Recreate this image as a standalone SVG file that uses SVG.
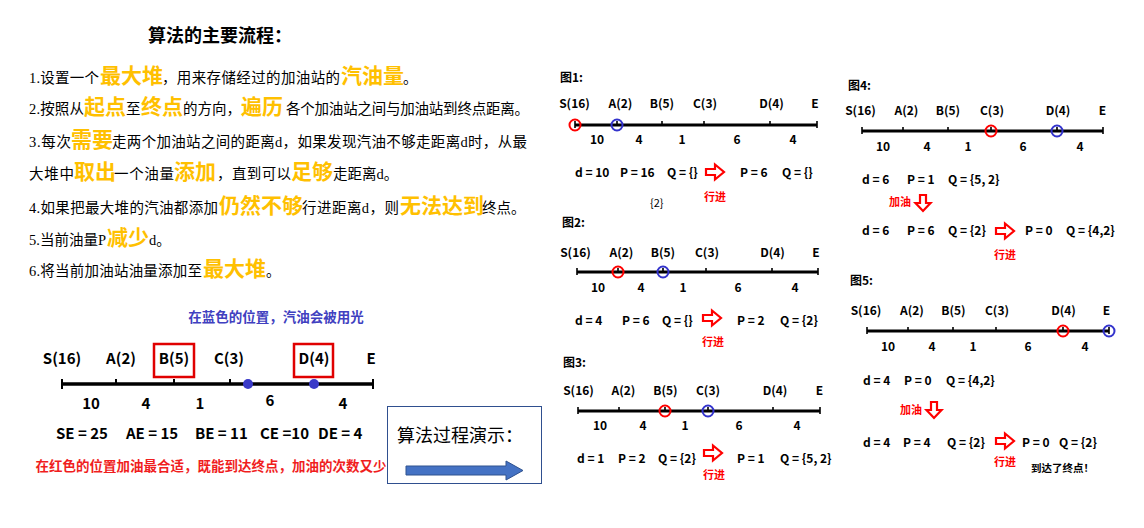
<svg xmlns="http://www.w3.org/2000/svg" width="1144" height="528" viewBox="0 0 1144 528">
<style>
.n{font-family:"Liberation Serif","Noto Sans CJK SC",serif;font-size:14.5px;fill:#000}
.h{font-family:"Noto Sans CJK SC",sans-serif;font-weight:bold;font-size:21px;fill:#FFC000}
.ttl{font-family:"Noto Sans CJK SC",sans-serif;font-weight:bold;font-size:18px;fill:#000}
.fl{stroke:#000;stroke-width:3;fill:none}
.tk{stroke:#000;stroke-width:1.6;fill:none}
.cr{fill:none;stroke:#F00;stroke-width:2}
.cb{fill:none;stroke:#3333CC;stroke-width:2}
.lb{font-family:"Noto Sans CJK SC",sans-serif;font-weight:bold;font-size:12px;fill:#000;text-anchor:middle}
.st{font-family:"Noto Sans CJK SC",sans-serif;font-weight:bold;font-size:12px;fill:#000}
.ft{font-family:"Noto Sans CJK SC",sans-serif;font-weight:bold;font-size:12px;fill:#000}
.rt{font-family:"Noto Sans CJK SC",sans-serif;font-weight:bold;font-size:11px;fill:#F00}
.ar{fill:#fff;stroke:#F00;stroke-width:2.2;stroke-linejoin:miter}
.bl{font-family:"Noto Sans CJK SC",sans-serif;font-weight:bold;font-size:15px;fill:#000;text-anchor:middle}
.bs{font-family:"Noto Sans CJK SC",sans-serif;font-weight:bold;font-size:15px;fill:#000}
.big{stroke:#000;stroke-width:3.5;fill:none}
.bt{stroke:#000;stroke-width:2;fill:none}
.rb{fill:none;stroke:#E00000;stroke-width:2.5}
</style>
<defs>
<path id="ra" d="M0,-3 H9 V-7.5 L18,0 L9,7.5 V3 H0 Z"/>
<path id="da" d="M-3,0 V8 H-7.5 L0,16 L7.5,8 H3 V0 Z"/>
</defs>

<g id="title">
<text class="ttl" x="148" y="42">算法的主要流程：</text>
</g>

<g id="steps">
<text y="83"><tspan class="n" x="29" textLength="70">1.设置一个</tspan><tspan class="h" x="100">最大堆</tspan><tspan class="n" x="162" textLength="178">，用来存储经过的加油站的</tspan><tspan class="h" x="341">汽油量</tspan><tspan class="n" x="403">。</tspan></text>
<text y="114"><tspan class="n" x="29" textLength="55">2.按照从</tspan><tspan class="h" x="84">起点</tspan><tspan class="n" x="126">至</tspan><tspan class="h" x="141">终点</tspan><tspan class="n" x="183" textLength="58">的方向，</tspan><tspan class="h" x="241">遍历</tspan><tspan class="n" x="286" textLength="243">各个加油站之间与加油站到终点距离。</tspan></text>
<text y="147"><tspan class="n" x="29" textLength="42">3.每次</tspan><tspan class="h" x="71">需要</tspan><tspan class="n" x="112" textLength="415">走两个加油站之间的距离d，如果发现汽油不够走距离d时，从最</tspan></text>
<text y="179"><tspan class="n" x="29" textLength="45">大堆中</tspan><tspan class="h" x="74">取出</tspan><tspan class="n" x="114" textLength="60">一个油量</tspan><tspan class="h" x="174">添加</tspan><tspan class="n" x="217" textLength="74">，直到可以</tspan><tspan class="h" x="291">足够</tspan><tspan class="n" x="333">走距离d。</tspan></text>
<text y="213"><tspan class="n" x="29" textLength="189">4.如果把最大堆的汽油都添加</tspan><tspan class="h" x="219">仍然不够</tspan><tspan class="n" x="302" textLength="97">行进距离d，则</tspan><tspan class="h" x="400">无法达到</tspan><tspan class="n" x="482">终点。</tspan></text>
<text y="245"><tspan class="n" x="29" textLength="77">5.当前油量P</tspan><tspan class="h" x="107">减少</tspan><tspan class="n" x="149">d。</tspan></text>
<text y="276"><tspan class="n" x="29" textLength="173">6.将当前加油站油量添加至</tspan><tspan class="h" x="203">最大堆</tspan><tspan class="n" x="266">。</tspan></text>
</g>

<g id="overview">
<text x="276" y="322" style="font-family:'Noto Sans CJK SC',sans-serif;font-weight:bold;font-size:13.5px;fill:#4040C0;text-anchor:middle">在蓝色的位置，汽油会被用光</text>
<rect class="rb" x="154" y="344" width="40" height="33"/>
<rect class="rb" x="294" y="344" width="39" height="33"/>
<text class="bl" x="62" y="364">S(16)</text>
<text class="bl" x="121" y="364">A(2)</text>
<text class="bl" x="174" y="364">B(5)</text>
<text class="bl" x="229" y="364">C(3)</text>
<text class="bl" x="314" y="364">D(4)</text>
<text class="bl" x="371" y="364">E</text>
<line class="big" x1="62" y1="384" x2="373" y2="384"/>
<path class="bt" d="M62,379 V389 M116,379 V384 M174,379 V384 M230,379 V384 M373,379 V389"/>
<circle cx="248" cy="384" r="5" fill="#3A3AC8"/>
<circle cx="314" cy="384" r="5" fill="#3A3AC8"/>
<text class="bl" x="91" y="409">10</text>
<text class="bl" x="146" y="409">4</text>
<text class="bl" x="200" y="409">1</text>
<text class="bl" x="270" y="406">6</text>
<text class="bl" x="343" y="409">4</text>
<text class="bs" x="56" y="439">SE = 25</text>
<text class="bs" x="126" y="439">AE = 15</text>
<text class="bs" x="195" y="439">BE = 11</text>
<text class="bs" x="260" y="439">CE =10</text>
<text class="bs" x="318" y="439">DE = 4</text>
<text x="211" y="471" style="font-family:'Noto Sans CJK SC',sans-serif;font-weight:bold;font-size:13.5px;fill:#F01E1E;text-anchor:middle">在红色的位置加油最合适，既能到达终点，加油的次数又少</text>
</g>

<g id="demo-box">
<rect x="387.5" y="406.5" width="154" height="77" fill="#fff" stroke="#2F4F8F" stroke-width="1"/>
<text x="397" y="442" textLength="126" style="font-family:'Noto Sans CJK SC',sans-serif;font-size:18px;fill:#000">算法过程演示：</text>
<path d="M406,466 H506 V461 L523,470.5 L506,480 V475 H406 Z" fill="#4472C4" stroke="#2F528F" stroke-width="1"/>
</g>

<g id="fig1">
<text class="ft" x="560" y="82">图1:</text>
<text class="lb" x="574.5" y="108">S(16)</text>
<text class="lb" x="620.5" y="108">A(2)</text>
<text class="lb" x="662" y="108">B(5)</text>
<text class="lb" x="705" y="108">C(3)</text>
<text class="lb" x="771.5" y="108">D(4)</text>
<text class="lb" x="815" y="108">E</text>
<line class="fl" x1="575" y1="125" x2="817" y2="125"/>
<path class="tk" d="M575,121 V128 M617,121 V125 M662,121 V125 M704,121 V125 M770,121 V125 M817,121 V128"/>
<circle class="cr" cx="575" cy="125" r="5.5"/>
<circle class="cb" cx="617" cy="125" r="5.5"/>
<text class="lb" x="597" y="144">10</text>
<text class="lb" x="639" y="144">4</text>
<text class="lb" x="682" y="144">1</text>
<text class="lb" x="737" y="144">6</text>
<text class="lb" x="793" y="144">4</text>
<text class="st" x="575" y="177">d = 10</text>
<text class="st" x="620" y="177">P = 16</text>
<text class="st" x="667" y="177">Q = {}</text>
<use href="#ra" class="ar" x="706" y="172"/>
<text class="st" x="740" y="177">P = 6</text>
<text class="st" x="782" y="177">Q = {}</text>
<text class="rt" x="704" y="201">行进</text>
<text x="650" y="207" style="font-family:'Noto Sans CJK SC',sans-serif;font-size:11px;fill:#000">{2}</text>
</g>

<g id="fig2">
<text class="ft" x="562" y="227">图2:</text>
<text class="lb" x="575.5" y="257">S(16)</text>
<text class="lb" x="621.5" y="257">A(2)</text>
<text class="lb" x="663" y="257">B(5)</text>
<text class="lb" x="707" y="257">C(3)</text>
<text class="lb" x="772.5" y="257">D(4)</text>
<text class="lb" x="816" y="257">E</text>
<line class="fl" x1="577" y1="272" x2="818" y2="272"/>
<path class="tk" d="M577,268 V275 M618,268 V272 M663,268 V272 M706,268 V272 M772,268 V272 M818,268 V275"/>
<circle class="cr" cx="618" cy="272" r="5.5"/>
<circle class="cb" cx="663" cy="272" r="5.5"/>
<text class="lb" x="598" y="292">10</text>
<text class="lb" x="641" y="292">4</text>
<text class="lb" x="683" y="292">1</text>
<text class="lb" x="738" y="292">6</text>
<text class="lb" x="795" y="292">4</text>
<text class="st" x="575" y="325">d = 4</text>
<text class="st" x="622" y="325">P = 6</text>
<text class="st" x="662" y="325">Q = {}</text>
<use href="#ra" class="ar" x="703" y="318"/>
<text class="st" x="737" y="325">P = 2</text>
<text class="st" x="780" y="325">Q = {2}</text>
<text class="rt" x="702" y="346">行进</text>
</g>

<g id="fig3">
<text class="ft" x="563" y="367">图3:</text>
<text class="lb" x="578.5" y="395">S(16)</text>
<text class="lb" x="623.5" y="395">A(2)</text>
<text class="lb" x="665.5" y="395">B(5)</text>
<text class="lb" x="708" y="395">C(3)</text>
<text class="lb" x="775" y="395">D(4)</text>
<text class="lb" x="819.5" y="395">E</text>
<line class="fl" x1="578" y1="411" x2="820" y2="411"/>
<path class="tk" d="M578,407 V414 M619,407 V411 M665,407 V411 M708,407 V411 M773,407 V411 M820,407 V414"/>
<circle class="cr" cx="665" cy="411" r="5.5"/>
<circle class="cb" cx="708" cy="411" r="5.5"/>
<text class="lb" x="600" y="430">10</text>
<text class="lb" x="643" y="430">4</text>
<text class="lb" x="685" y="430">1</text>
<text class="lb" x="739" y="430">6</text>
<text class="lb" x="797" y="430">4</text>
<text class="st" x="577" y="463">d = 1</text>
<text class="st" x="618" y="463">P = 2</text>
<text class="st" x="658" y="463">Q = {2}</text>
<use href="#ra" class="ar" x="704" y="453"/>
<text class="st" x="737" y="463">P = 1</text>
<text class="st" x="780" y="463">Q = {5, 2}</text>
<text class="rt" x="703" y="479">行进</text>
</g>

<g id="fig4">
<text class="ft" x="848" y="90">图4:</text>
<text class="lb" x="860.5" y="115">S(16)</text>
<text class="lb" x="906.5" y="115">A(2)</text>
<text class="lb" x="948" y="115">B(5)</text>
<text class="lb" x="992" y="115">C(3)</text>
<text class="lb" x="1058" y="115">D(4)</text>
<text class="lb" x="1102.5" y="115">E</text>
<line class="fl" x1="862" y1="131" x2="1103" y2="131"/>
<path class="tk" d="M862,127 V134 M903,127 V131 M948,127 V131 M991,127 V131 M1057,127 V131 M1103,127 V134"/>
<circle class="cr" cx="991" cy="131" r="5.5"/>
<circle class="cb" cx="1057" cy="131" r="5.5"/>
<text class="lb" x="883" y="151">10</text>
<text class="lb" x="927" y="151">4</text>
<text class="lb" x="968" y="151">1</text>
<text class="lb" x="1023" y="151">6</text>
<text class="lb" x="1080" y="151">4</text>
<text class="st" x="862" y="184">d = 6</text>
<text class="st" x="907" y="184">P = 1</text>
<text class="st" x="948" y="184">Q = {5, 2}</text>
<text class="rt" x="889" y="206">加油</text>
<use href="#da" class="ar" x="923" y="195"/>
<text class="st" x="862" y="235">d = 6</text>
<text class="st" x="907" y="235">P = 6</text>
<text class="st" x="948" y="235">Q = {2}</text>
<use href="#ra" class="ar" x="996" y="231"/>
<text class="st" x="1025" y="235">P = 0</text>
<text class="st" x="1066" y="235">Q = {4,2}</text>
<text class="rt" x="994" y="259">行进</text>
</g>

<g id="fig5">
<text class="ft" x="850" y="285">图5:</text>
<text class="lb" x="866" y="315">S(16)</text>
<text class="lb" x="912" y="315">A(2)</text>
<text class="lb" x="953.5" y="315">B(5)</text>
<text class="lb" x="997" y="315">C(3)</text>
<text class="lb" x="1063.5" y="315">D(4)</text>
<text class="lb" x="1106.5" y="315">E</text>
<line class="fl" x1="867" y1="331" x2="1109" y2="331"/>
<path class="tk" d="M867,327 V334 M908,327 V331 M953,327 V331 M996,327 V331 M1063,327 V331 M1109,327 V334"/>
<circle class="cr" cx="1063" cy="331" r="5.5"/>
<circle class="cb" cx="1109" cy="331" r="5.5"/>
<text class="lb" x="888" y="351">10</text>
<text class="lb" x="932" y="351">4</text>
<text class="lb" x="973" y="351">1</text>
<text class="lb" x="1028" y="351">6</text>
<text class="lb" x="1085" y="351">4</text>
<text class="st" x="863" y="385">d = 4</text>
<text class="st" x="904" y="385">P = 0</text>
<text class="st" x="946" y="385">Q = {4,2}</text>
<text class="rt" x="900" y="414">加油</text>
<use href="#da" class="ar" x="934" y="402"/>
<text class="st" x="863" y="447">d = 4</text>
<text class="st" x="903" y="447">P = 4</text>
<text class="st" x="947" y="447">Q = {2}</text>
<use href="#ra" class="ar" x="996" y="441"/>
<text class="st" x="1022" y="447">P = 0</text>
<text class="st" x="1059" y="447">Q = {2}</text>
<text class="rt" x="994" y="466">行进</text>
<text x="1031" y="472" style="font-family:'Noto Sans CJK SC',sans-serif;font-weight:bold;font-size:10.5px;fill:#000">到达了终点！</text>
</g>
</svg>
